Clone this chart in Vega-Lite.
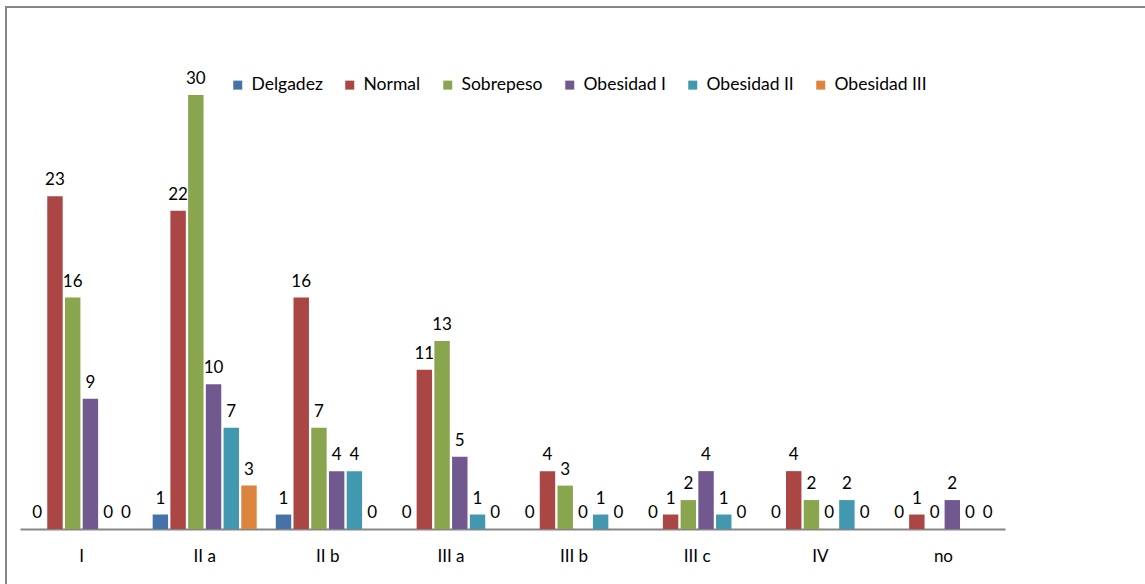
{
  "$schema": "https://vega.github.io/schema/vega-lite/v6.json",
  "autosize": {"type": "none"},
  "padding": {"left": 6, "top": 7, "right": 0, "bottom": 0},
  "width": 1150,
  "height": 590,
  "background": "white",
  "config": {
    "view": {"stroke": "#868686", "strokeWidth": 2},
    "font": "Lato"
  },
  "data": {
    "values": [
      {"estadio": "I", "serie": "Delgadez", "n": 0},
      {"estadio": "I", "serie": "Normal", "n": 23},
      {"estadio": "I", "serie": "Sobrepeso", "n": 16},
      {"estadio": "I", "serie": "Obesidad I", "n": 9},
      {"estadio": "I", "serie": "Obesidad II", "n": 0},
      {"estadio": "I", "serie": "Obesidad III", "n": 0},
      {"estadio": "II a", "serie": "Delgadez", "n": 1},
      {"estadio": "II a", "serie": "Normal", "n": 22},
      {"estadio": "II a", "serie": "Sobrepeso", "n": 30},
      {"estadio": "II a", "serie": "Obesidad I", "n": 10},
      {"estadio": "II a", "serie": "Obesidad II", "n": 7},
      {"estadio": "II a", "serie": "Obesidad III", "n": 3},
      {"estadio": "II b", "serie": "Delgadez", "n": 1},
      {"estadio": "II b", "serie": "Normal", "n": 16},
      {"estadio": "II b", "serie": "Sobrepeso", "n": 7},
      {"estadio": "II b", "serie": "Obesidad I", "n": 4},
      {"estadio": "II b", "serie": "Obesidad II", "n": 4},
      {"estadio": "II b", "serie": "Obesidad III", "n": 0},
      {"estadio": "III a", "serie": "Delgadez", "n": 0},
      {"estadio": "III a", "serie": "Normal", "n": 11},
      {"estadio": "III a", "serie": "Sobrepeso", "n": 13},
      {"estadio": "III a", "serie": "Obesidad I", "n": 5},
      {"estadio": "III a", "serie": "Obesidad II", "n": 1},
      {"estadio": "III a", "serie": "Obesidad III", "n": 0},
      {"estadio": "III b", "serie": "Delgadez", "n": 0},
      {"estadio": "III b", "serie": "Normal", "n": 4},
      {"estadio": "III b", "serie": "Sobrepeso", "n": 3},
      {"estadio": "III b", "serie": "Obesidad I", "n": 0},
      {"estadio": "III b", "serie": "Obesidad II", "n": 1},
      {"estadio": "III b", "serie": "Obesidad III", "n": 0},
      {"estadio": "III c", "serie": "Delgadez", "n": 0},
      {"estadio": "III c", "serie": "Normal", "n": 1},
      {"estadio": "III c", "serie": "Sobrepeso", "n": 2},
      {"estadio": "III c", "serie": "Obesidad I", "n": 4},
      {"estadio": "III c", "serie": "Obesidad II", "n": 1},
      {"estadio": "III c", "serie": "Obesidad III", "n": 0},
      {"estadio": "IV", "serie": "Delgadez", "n": 0},
      {"estadio": "IV", "serie": "Normal", "n": 4},
      {"estadio": "IV", "serie": "Sobrepeso", "n": 2},
      {"estadio": "IV", "serie": "Obesidad I", "n": 0},
      {"estadio": "IV", "serie": "Obesidad II", "n": 2},
      {"estadio": "IV", "serie": "Obesidad III", "n": 0},
      {"estadio": "no", "serie": "Delgadez", "n": 0},
      {"estadio": "no", "serie": "Normal", "n": 1},
      {"estadio": "no", "serie": "Sobrepeso", "n": 0},
      {"estadio": "no", "serie": "Obesidad I", "n": 2},
      {"estadio": "no", "serie": "Obesidad II", "n": 0},
      {"estadio": "no", "serie": "Obesidad III", "n": 0}
    ]
  },
  "encoding": {
    "x": {
      "field": "estadio", "type": "nominal", "sort": null,
      "scale": {"range": [14, 999], "paddingInner": 0.155, "paddingOuter": 0.0775},
      "axis": {
        "title": null, "labelAngle": 0, "ticks": false,
        "domainColor": "#868686", "domainWidth": 2,
        "labelFont": "Lato", "labelFontSize": 17, "labelColor": "#000000",
        "labelPadding": 19, "offset": -68
      }
    },
    "xOffset": {
      "field": "serie", "type": "nominal",
      "sort": ["Delgadez", "Normal", "Sobrepeso", "Obesidad I", "Obesidad II", "Obesidad III"],
      "scale": {"paddingInner": 0.13}
    },
    "y": {
      "field": "n", "type": "quantitative",
      "scale": {"domain": [0, 30], "range": [522, 88], "nice": false, "zero": true},
      "axis": null
    }
  },
  "layer": [
    {
      "mark": {"type": "bar"},
      "encoding": {
        "color": {
          "field": "serie", "type": "nominal",
          "sort": ["Delgadez", "Normal", "Sobrepeso", "Obesidad I", "Obesidad II", "Obesidad III"],
          "scale": {
            "domain": ["Delgadez", "Normal", "Sobrepeso", "Obesidad I", "Obesidad II", "Obesidad III"],
            "range": ["#4572A7", "#AA4643", "#89A54E", "#71588F", "#4198AF", "#DB843D"]
          },
          "legend": {
            "title": null, "orient": "none", "direction": "horizontal",
            "legendX": 223, "legendY": 69, "padding": 0,
            "symbolType": "square", "symbolSize": 81, "symbolStrokeWidth": 0,
            "labelFont": "Lato", "labelFontSize": 17.5, "labelColor": "#000000",
            "labelOffset": 5, "columnPadding": 18
          }
        }
      }
    },
    {
      "mark": {"type": "text", "baseline": "alphabetic", "dy": -11, "fontSize": 17, "font": "Lato", "color": "#000000"},
      "encoding": {"text": {"field": "n", "type": "quantitative"}}
    }
  ]
}
